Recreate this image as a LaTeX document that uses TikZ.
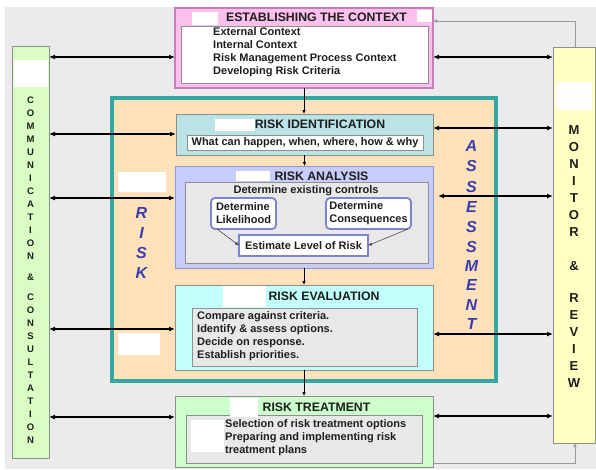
\documentclass[tikz,border=0pt]{standalone}
\usepackage{fontspec}
\setmainfont{Liberation Sans}
\usetikzlibrary{arrows.meta}

\definecolor{bggray}{HTML}{EBEBEB}
\definecolor{commfill}{HTML}{DAFDC4}
\definecolor{monfill}{HTML}{FFFFC2}
\definecolor{pinkfill}{HTML}{FBC0EC}
\definecolor{pinkedge}{HTML}{C77DB5}
\definecolor{tealedge}{HTML}{33A8A2}
\definecolor{peach}{HTML}{FCE1BA}
\definecolor{idfill}{HTML}{BAE3E6}
\definecolor{anfill}{HTML}{C6CDFD}
\definecolor{anedge}{HTML}{8E97E2}
\definecolor{evfill}{HTML}{C2FFFA}
\definecolor{trfill}{HTML}{CCFFCC}
\definecolor{innergray}{HTML}{E8E8E8}
\definecolor{edgegray}{HTML}{8E8E8E}
\definecolor{purpleedge}{HTML}{7F82CC}
\definecolor{riskblue}{HTML}{3B3DAE}
\definecolor{txt}{HTML}{1E1E1E}

\begin{document}
\begin{tikzpicture}[x=1pt,y=-1pt,
  box/.style={draw=edgegray, line width=1pt, inner sep=0pt, outer sep=0pt},
  innerbox/.style={box, fill=innergray},
  ovalbox/.style={draw=purpleedge, line width=1.8pt, fill=white, rounded corners=4pt, inner sep=0pt, outer sep=0pt},
  title/.style={font=\fontsize{12.3}{14}\selectfont\bfseries, text=txt, inner sep=0pt},
  body/.style={font=\fontsize{11}{13}\selectfont\bfseries, text=txt, inner sep=0pt, align=left},
  commletter/.style={font=\fontsize{9.5}{10}\selectfont\bfseries, text=txt, inner sep=0pt},
  monletter/.style={font=\fontsize{13}{14}\selectfont\bfseries, text=txt, inner sep=0pt},
  riskletter/.style={font=\fontsize{16}{18}\selectfont\bfseries\itshape, text=riskblue, inner sep=0pt},
  dbl/.style={{Latex[length=6pt,width=5pt]}-{Latex[length=6pt,width=5pt]}, line width=1.6pt, black},
  flow/.style={-{Latex[length=4pt,width=3.5pt]}, line width=0.8pt, black},
  thinflow/.style={-{Latex[length=4pt,width=3.5pt]}, line width=0.6pt, black!70},
  feedback/.style={-{Latex[length=4pt,width=3.5pt]}, line width=1pt, black!40},
  patch/.style={fill=white}
]
\useasboundingbox (0,0) rectangle (596,469);

% background panel
\fill[bggray] (5,7) rectangle (596,469);

% side columns
\node[box, fill=commfill, minimum width=37pt, minimum height=412pt] (comm) at (30.5,252) {};
\node[box, fill=monfill, minimum width=42pt, minimum height=396pt] (mon) at (574,245) {};

% context
\node[draw=pinkedge, line width=1.3pt, fill=pinkfill, inner sep=0pt, outer sep=0pt,
      minimum width=258pt, minimum height=80pt] (est) at (304,48) {};
\node[box, fill=white, minimum width=247pt, minimum height=57pt] (estin) at (304.5,54.5) {};

% risk assessment frame
\node[draw=tealedge, line width=4pt, fill=peach, inner sep=0pt, outer sep=0pt,
      minimum width=384pt, minimum height=283pt] (ra) at (304,239.5) {};

% identification
\node[box, fill=idfill, minimum width=257pt, minimum height=41pt] (id) at (304.5,134.5) {};
\node[box, fill=white, minimum width=236pt, minimum height=15pt] (idin) at (305,142.5) {};

% analysis
\node[draw=anedge, line width=1pt, fill=anfill, inner sep=0pt, outer sep=0pt,
      minimum width=258pt, minimum height=102pt] (an) at (304,217) {};
\node[innerbox, minimum width=243pt, minimum height=81pt] (anin) at (306.5,222.5) {};
\node[ovalbox, minimum width=65pt, minimum height=31pt] (lik) at (243.5,213.5) {};
\node[ovalbox, minimum width=85pt, minimum height=31pt] (con) at (368.5,213.5) {};
\node[draw=purpleedge, line width=1.8pt, fill=white, inner sep=0pt, outer sep=0pt,
      minimum width=129pt, minimum height=21pt] (lvl) at (303.5,245.5) {};

% evaluation
\node[box, fill=evfill, minimum width=258pt, minimum height=85pt] (ev) at (304,327.5) {};
\node[innerbox, minimum width=225pt, minimum height=58pt] (evin) at (304.5,337) {};

% treatment
\node[box, fill=trfill, minimum width=258pt, minimum height=71pt] (tr) at (304,431.5) {};
\node[innerbox, minimum width=236pt, minimum height=48pt] (trin) at (304,439) {};

% blank label strips
\fill[patch] (13.5,60) rectangle (47.5,87);
\fill[patch] (556,82) rectangle (592,110);
\fill[patch] (192,12) rectangle (218,25);
\fill[patch] (417,9.5) rectangle (432,22);
\fill[patch] (215,119) rectangle (255,131);
\fill[patch] (236,171) rectangle (270,181);
\fill[patch] (223,286) rectangle (266,307);
\fill[patch] (230,398) rectangle (258,417);
\fill[patch] (191,420) rectangle (224,452);
\fill[patch] (118,172) rectangle (166,192);
\fill[patch] (118,333) rectangle (160,355);

% titles and texts
\node[title] (esttitle) at (316.5,17) {ESTABLISHING THE CONTEXT};
\node[body, anchor=west] (esttext) at (213,52.5) {External Context\\Internal Context\\Risk Management Process Context\\Developing Risk Criteria};

\node[title] (idtitle) at (320,124) {RISK IDENTIFICATION};
\node[body] (idtext) at (idin) {What can happen, when, where, how \& why};

\node[title] (antitle) at (321.5,176) {RISK ANALYSIS};
\node[body] (antext) at (306,191) {Determine existing controls};
\node[body] (liktext) at (lik) {Determine\\Likelihood};
\node[body] (context) at (con) {Determine\\Consequences};
\node[body] (lvltext) at (lvl) {Estimate Level of Risk};

\node[title] (evtitle) at (324,296) {RISK EVALUATION};
\node[body, anchor=west] (evtext) at (197,336) {Compare against criteria.\\Identify \& assess options.\\Decide on response.\\Establish priorities.};

\node[title] (trtitle) at (316.5,407) {RISK TREATMENT};
\node[body, anchor=west] (trtext) at (225,438) {Selection of risk treatment options\\Preparing and implementing risk\\treatment plans};

% vertical captions
\foreach \l/\y [count=\i] in {C/100,O/113,M/126,M/139,U/152,N/165,I/178,C/191,A/204,T/217,I/230,O/243,N/256,{\&}/277,C/297,O/310,N/323,S/336,U/349,L/362,T/375,A/388,T/401,I/414,O/427,N/440}
  \node[commletter] (cl\i) at (30.5,\y) {\l};
\foreach \l/\y [count=\i] in {M/130,O/147,N/164,I/181,T/198,O/215,R/232,{\&}/266,R/298,E/315,V/332,I/349,E/366,W/383}
  \node[monletter] (ml\i) at (574,\y) {\l};
\foreach \l/\y [count=\i] in {R/213,I/233,S/253,K/273}
  \node[riskletter] (rl\i) at (141.5,\y) {\l};
\foreach \l/\y [count=\i] in {A/146,S/166,S/187,E/207,S/227,S/247,M/266,E/285,N/305,T/324}
  \node[riskletter] (al\i) at (471.5,\y) {\l};

% main process flow
\draw[flow] (est.south) -- (est.south |- id.north);
\draw[flow] (id.south) -- (id.south |- an.north);
\draw[flow] (an.south) -- (an.south |- ev.north);
\draw[flow] (ev.south) -- (ev.south |- tr.north);

% inside the analysis
\draw[thinflow] ([xshift=6pt]lik.south west) -- (lvl.west);
\draw[thinflow] ([xshift=-3pt]con.south east) -- (lvl.east);

% communication links
\draw[dbl] (comm.east |- 0,57) -- (est.west |- 0,57);
\draw[dbl] (comm.east |- 0,134) -- (id.west |- 0,134);
\draw[dbl] (comm.east |- 0,198) -- (an.west |- 0,198);
\draw[dbl] (comm.east |- 0,329) -- (ev.west |- 0,329);
\draw[dbl] (comm.east |- 0,417) -- (tr.west |- 0,417);

% monitoring links
\draw[dbl] (est.east |- 0,57) -- (mon.west |- 0,57);
\draw[dbl] (id.east |- 0,128) -- (mon.west |- 0,128);
\draw[dbl] ([xshift=5pt]an.east |- 0,196) -- (mon.west |- 0,196);
\draw[dbl] (ev.east |- 0,334) -- (mon.west |- 0,334);
\draw[dbl] (tr.east |- 0,416) -- (mon.west |- 0,416);

% feedback loop
\draw[feedback] (mon.north -| 575,0) |- (est.east |- 0,21);
\draw[feedback] (tr.east |- 0,463) -| (mon.south -| 575,0);
\end{tikzpicture}
\end{document}
